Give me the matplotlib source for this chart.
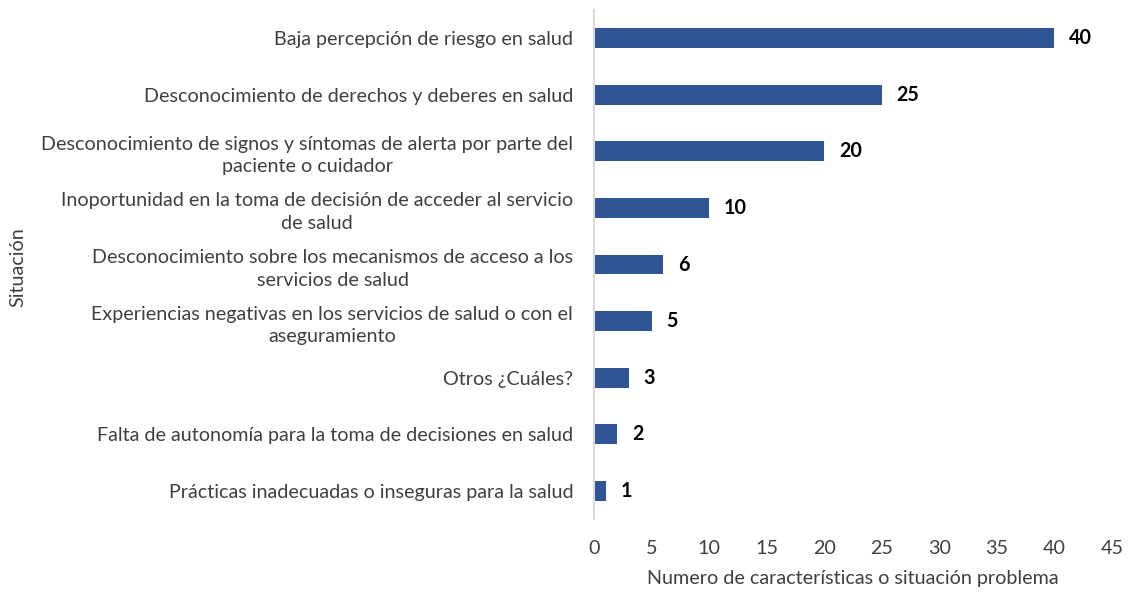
import matplotlib
matplotlib.use("Agg")
import matplotlib.pyplot as plt

categories = [
    "Baja percepción de riesgo en salud",
    "Desconocimiento de derechos y deberes en salud",
    "Desconocimiento de signos y síntomas de alerta por parte del\npaciente o cuidador",
    "Inoportunidad en la toma de decisión de acceder al servicio\nde salud",
    "Desconocimiento sobre los mecanismos de acceso a los\nservicios de salud",
    "Experiencias negativas en los servicios de salud o con el\naseguramiento",
    "Otros ¿Cuáles?",
    "Falta de autonomía para la toma de decisiones en salud",
    "Prácticas inadecuadas o inseguras para la salud",
]
values = [40, 25, 20, 10, 6, 5, 3, 2, 1]
xticks = [0, 5, 10, 15, 20, 25, 30, 35, 40, 45]

plt.rcParams['font.family'] = ['Lato', 'DejaVu Sans']
FS = 14.2

fig = plt.figure(figsize=(11.28, 5.93), dpi=100)
ax = fig.add_axes([0.5266, 0.1243, 0.4592, 0.8593])

y = list(range(len(categories)))
ax.barh(y, values, height=0.35, color='#2F5597')
ax.set_ylim(len(categories) - 0.5, -0.5)
ax.set_xlim(0, 45)
ax.set_yticks(y)
ax.set_yticklabels(categories, fontsize=FS, color='#404040', linespacing=1.4, ha='right', multialignment='center')
ax.set_xticks(xticks)
ax.set_xticklabels([str(t) for t in xticks], fontsize=FS, color='#404040')
ax.tick_params(axis='both', length=0)
ax.tick_params(axis='y', pad=15)
ax.tick_params(axis='x', pad=15)

for s in ['top', 'right', 'bottom']:
    ax.spines[s].set_visible(False)
ax.spines['left'].set_color('#D9D9D9')
ax.spines['left'].set_linewidth(1.5)

for yi, v in zip(y, values):
    ax.text(v + 1.3, yi, str(v), va='center', ha='left', fontsize=FS, fontweight='bold', color='black')

ax.set_xlabel("Numero de características o situación problema", fontsize=FS, color='#404040', labelpad=9)
fig.text(0.008, 0.55, "Situación", rotation=90, va='center', ha='left', fontsize=FS, color='#404040')

fig.savefig("out.png", dpi=100)
